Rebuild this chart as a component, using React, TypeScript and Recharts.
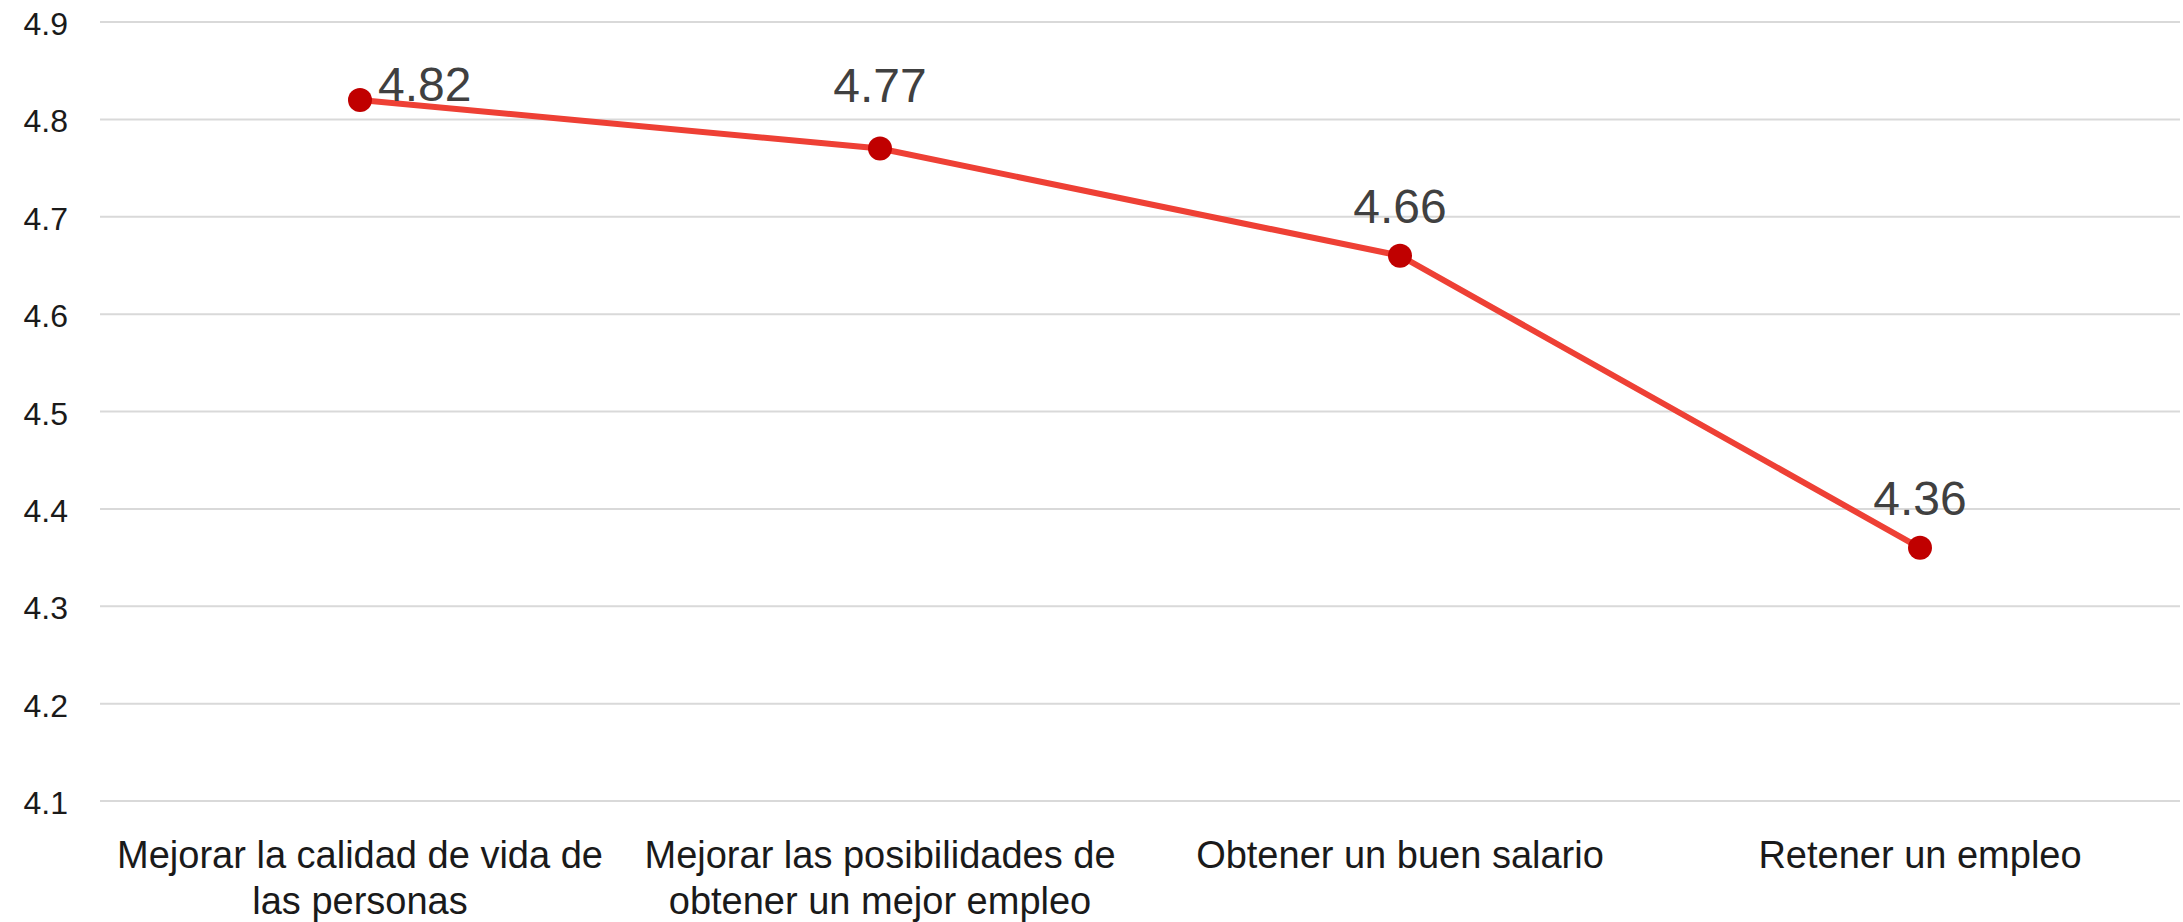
import { LineChart, Line, XAxis, YAxis, CartesianGrid } from "recharts";

const categories = [
  "Mejorar la calidad de vida de las personas",
  "Mejorar las posibilidades de obtener un mejor empleo",
  "Obtener un buen salario",
  "Retener un empleo",
];
const scores = [4.82, 4.77, 4.66, 4.36];
const yTicks = [4.1, 4.2, 4.3, 4.4, 4.5, 4.6, 4.7, 4.8, 4.9];

const data = categories.map((name, i) => ({ name, value: scores[i] }));

const FONT = '"Liberation Sans", Arial, sans-serif';

let ctx: CanvasRenderingContext2D | null = null;
function measure(s: string, font: string) {
  if (!ctx) ctx = document.createElement("canvas").getContext("2d");
  if (!ctx) return s.length * 19;
  ctx.font = font;
  return ctx.measureText(s).width;
}

// simple word wrap for the category labels
function wrap(label: string, maxWidth: number, font: string) {
  const words = label.split(" ");
  const lines: string[] = [];
  let cur = "";
  for (const w of words) {
    const next = cur ? cur + " " + w : w;
    if (cur && measure(next, font) > maxWidth) {
      lines.push(cur);
      cur = w;
    } else {
      cur = next;
    }
  }
  if (cur) lines.push(cur);
  return lines;
}

function CategoryTick(props: any) {
  const { x, y, payload } = props;
  const lines = wrap(String(payload.value), 510, `38px ${FONT}`);
  return (
    <text
      x={x}
      y={y}
      textAnchor="middle"
      fontSize={38}
      fontFamily={FONT}
      fill="#1a1a1a"
    >
      {lines.map((line, i) => (
        <tspan key={i} x={x} dy={i === 0 ? 28 : 46}>
          {line}
        </tspan>
      ))}
    </text>
  );
}

function ValueTick(props: any) {
  const { x, y, payload } = props;
  return (
    <text
      x={x}
      y={y + 13}
      textAnchor="end"
      fontSize={32}
      fontFamily={FONT}
      fill="#1a1a1a"
    >
      {Number(payload.value).toFixed(1)}
    </text>
  );
}

function ValueLabel(props: any) {
  const { x, y, value, index } = props;
  const text = Number(value).toFixed(2);
  if (index === 0) {
    return (
      <text x={x + 18} y={y + 1} fontSize={48} fontFamily={FONT} fill="#404040">
        {text}
      </text>
    );
  }
  const lift = index === 1 ? 47 : 33;
  return (
    <text
      x={x}
      y={y - lift}
      textAnchor="middle"
      fontSize={48}
      fontFamily={FONT}
      fill="#404040"
    >
      {text}
    </text>
  );
}

export default function App() {
  return (
    <div style={{ position: "absolute", left: 0, top: 0, background: "#fff" }}>
      <LineChart
        width={2183}
        height={922}
        data={data}
        margin={{ top: 22, right: 3, bottom: 0, left: 0 }}
      >
        <CartesianGrid vertical={false} stroke="#d9d9d9" strokeWidth={2} />
        <XAxis
          dataKey="name"
          axisLine={false}
          tickLine={false}
          tickSize={0}
          tickMargin={39}
          height={121}
          padding={{ left: 260, right: 260 }}
          interval={0}
          tick={<CategoryTick />}
        />
        <YAxis
          domain={[4.1, 4.9]}
          ticks={yTicks}
          width={100}
          axisLine={false}
          tickLine={false}
          tickSize={0}
          tickMargin={32}
          tick={<ValueTick />}
        />
        <Line
          dataKey="value"
          stroke="#ee4035"
          strokeWidth={6}
          dot={{ r: 12, fill: "#c00000", stroke: "none" }}
          activeDot={false}
          isAnimationActive={false}
          label={<ValueLabel />}
        />
      </LineChart>
    </div>
  );
}
